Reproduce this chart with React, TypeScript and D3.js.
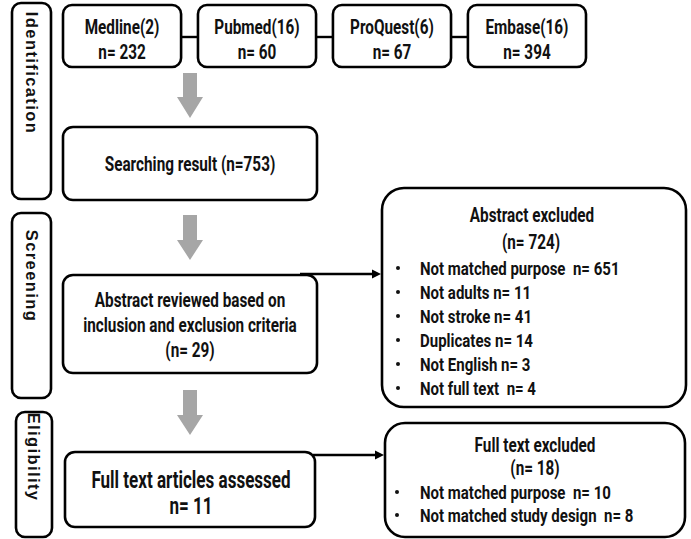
import React, { useEffect, useRef } from "react";
import * as d3 from "d3";

// ---- data ----
const phases = ["Identification", "Screening", "Eligibility"];
const sources = ["Medline(2)", "Pubmed(16)", "ProQuest(6)", "Embase(16)"];
const sourceCounts = [232, 60, 67, 394];
const searchingTotal = 753;
const abstractReviewedLines = ["Abstract reviewed based on", "inclusion and exclusion criteria"];
const abstractReviewedN = 29;
const abstractExcludedN = 724;
const abstractReasons = ["Not matched purpose  n= 651", "Not adults n= 11", "Not stroke n= 41", "Duplicates n= 14", "Not English n= 3", "Not full text  n= 4"];
const fullTextAssessedN = 11;
const fullTextExcludedN = 18;
const fullTextReasons = ["Not matched purpose  n= 10", "Not matched study design  n= 8"];

const W = 691;
const H = 539;
const FONT = "Roboto, 'Liberation Sans', sans-serif";

export default function App() {
  const ref = useRef<SVGSVGElement | null>(null);

  useEffect(() => {
    const svg = d3.select(ref.current);
    svg.selectAll("*").remove();

    const box = (x: number, y: number, w: number, h: number, r: number) =>
      svg.append("rect").attr("x", x).attr("y", y).attr("width", w).attr("height", h)
        .attr("rx", r).attr("ry", r).attr("fill", "#fff").attr("stroke", "#000").attr("stroke-width", 2.6);

    const text = (s: string, x: number, y: number, size: number, sx: number, anchor = "middle") => {
      const g = svg.append("g").attr("transform", `translate(${x},${y}) scale(${sx},1)`);
      g.append("text").attr("x", 0).attr("y", 0).attr("text-anchor", anchor)
        .attr("dominant-baseline", "central").attr("font-family", FONT).attr("font-weight", 700)
        .attr("font-size", size).attr("fill", "#111").style("white-space", "pre").text(s);
    };
    const main = (s: string, x: number, y: number, anchor = "middle") => text(s, x, y, 20, 0.765, anchor);
    const item = (s: string, x: number, y: number) => text(s, x, y, 19, 0.79, "start");

    const bullet = (x: number, y: number) =>
      svg.append("circle").attr("cx", x).attr("cy", y).attr("r", 2).attr("fill", "#111");

    // phase labels
    const phaseBoxes = [
      { x: 12, y: 3, w: 39, h: 196, c: 73 },
      { x: 12, y: 213, w: 39, h: 185, c: 276 },
      { x: 16, y: 412, w: 36, h: 125, c: 457 },
    ];
    phases.forEach((p, i) => {
      const b = phaseBoxes[i];
      box(b.x, b.y, b.w, b.h, 9);
      svg.append("text")
        .attr("transform", `translate(${b.x + b.w / 2},${b.c}) rotate(90)`)
        .attr("text-anchor", "middle").attr("dominant-baseline", "central")
        .attr("font-family", "'Liberation Sans', Arial, sans-serif").attr("font-weight", 700)
        .attr("font-size", 16.5).attr("letter-spacing", 1.4).attr("fill", "#111").text(p);
    });

    // source boxes
    const xb = d3.scaleBand<string>().domain(sources).range([63, 586]).paddingInner(0.125);
    const sy = 5, sh = 62;
    sources.forEach((s, i) => {
      if (i > 0) {
        const prev = sources[i - 1];
        svg.append("line").attr("x1", (xb(prev) as number) + xb.bandwidth()).attr("x2", xb(s) as number)
          .attr("y1", 37).attr("y2", 37).attr("stroke", "#000").attr("stroke-width", 2.4);
      }
    });
    sources.forEach((s, i) => {
      const x = xb(s) as number;
      box(x, sy, xb.bandwidth(), sh, 9);
      main(s, x + xb.bandwidth() / 2, 27);
      main(`n= ${sourceCounts[i]}`, x + xb.bandwidth() / 2, 52);
    });

    // gray down arrows
    const cx = 190;
    const arrows = [[73, 97, 118], [215, 240, 260], [390, 415, 435]];
    arrows.forEach(([t, hs, tip]) => {
      const p = d3.path();
      p.moveTo(cx - 7, t); p.lineTo(cx + 7, t); p.lineTo(cx + 7, hs); p.lineTo(cx + 13, hs);
      p.lineTo(cx, tip); p.lineTo(cx - 13, hs); p.lineTo(cx - 7, hs); p.closePath();
      svg.append("path").attr("d", p.toString()).attr("fill", "#a6a6a6");
    });

    // black side arrows
    const side = [[300, 382, 274], [313, 385, 455]];
    side.forEach(([x1, x2, y]) => {
      svg.append("line").attr("x1", x1).attr("x2", x2 - 7).attr("y1", y).attr("y2", y)
        .attr("stroke", "#000").attr("stroke-width", 2.4);
      const p = d3.path();
      p.moveTo(x2 - 1, y); p.lineTo(x2 - 10, y - 4.5); p.lineTo(x2 - 10, y + 4.5); p.closePath();
      svg.append("path").attr("d", p.toString()).attr("fill", "#000");
    });

    // searching result
    box(63, 127, 254, 73, 10);
    main(`Searching result (n=${searchingTotal})`, 190, 164);

    // abstract reviewed
    box(63, 275, 254, 98, 10);
    abstractReviewedLines.forEach((l, i) => main(l, 190, 300 + i * 25));
    main(`(n= ${abstractReviewedN})`, 190, 350);

    // full text assessed
    box(65, 452, 250, 75, 10);
    text("Full text articles assessed", 191, 480, 24, 0.71);
    text(`n= ${fullTextAssessedN}`, 191, 506, 24, 0.71);

    // abstract excluded
    box(382, 188, 304, 219, 22);
    main("Abstract excluded", 532, 215);
    main(`(n= ${abstractExcludedN})`, 531, 242);
    abstractReasons.forEach((r, i) => {
      const y = 268 + i * 24;
      bullet(398, y);
      item(r, 420, y);
    });

    // full text excluded
    box(385, 423, 300, 114, 20);
    main("Full text excluded", 535, 445);
    main(`(n= ${fullTextExcludedN})`, 535, 468);
    fullTextReasons.forEach((r, i) => {
      const y = 492 + i * 23;
      bullet(397, y);
      item(r, 420, y);
    });
  }, []);

  return (
    <svg ref={ref} width={W} height={H} style={{ position: "absolute", left: 0, top: 0, background: "#fff" }} />
  );
}
